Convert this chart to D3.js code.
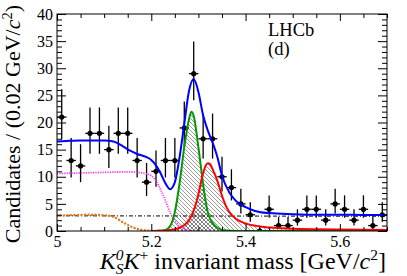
<!DOCTYPE html>
<html><head><meta charset="utf-8">
<script src="https://cdn.jsdelivr.net/npm/d3@7"></script>
<style>html,body{margin:0;padding:0;background:#fff;}</style>
</head><body>
<svg id="c" width="407" height="276" font-family="Liberation Serif, Times New Roman, DejaVu Serif, serif"></svg>
<script>
// ---- data ----
const binCenters = [5.01,5.03,5.05,5.07,5.09,5.11,5.13,5.15,5.17,5.19,5.21,5.23,5.25,5.27,5.29,5.31,5.33,5.35,5.37,5.39,5.41,5.43,5.45,5.47,5.49,5.51,5.53,5.55,5.57,5.59,5.61,5.63,5.65,5.67,5.69];
const counts = [21,13,12,18,18,15,18,18,13,9,11,13,13,19,29,17,17,10,8,5,3,0,4,1,1,2,4,4,2,5,4,2,4,1,3];
const binHalfWidth = 0.01;

const totalMass = [5.00,5.02,5.05,5.08,5.10,5.12,5.14,5.155,5.17,5.19,5.20,5.21,5.22,5.23,5.24,5.25,5.26,5.27,5.28,5.29,5.30,5.31,5.32,5.33,5.34,5.35,5.365,5.38,5.40,5.42,5.45,5.50,5.55,5.60,5.65,5.70];
const totalFit = [16.5,16.6,16.7,16.7,16.7,16.5,15.6,14.8,14.2,13.6,13.1,12.1,10.6,8.8,7.7,9.0,13.6,19.8,25.8,28.0,25.6,21.3,18.5,16.3,13.7,10.2,7.2,5.5,4.4,3.7,3.3,3.1,3.0,3.0,2.95,2.95];

const sigMass = [5.20,5.21,5.22,5.23,5.24,5.25,5.26,5.27,5.28,5.285,5.29,5.30,5.305,5.31,5.32,5.325,5.33,5.34,5.35,5.36,5.37,5.38,5.40,5.43,5.46,5.50,5.55,5.60,5.65,5.70];
const greenSig = [0,0.02,0.05,0.2,0.9,3.5,8.8,15.5,20.6,22.0,21.2,15.4,12.0,8.6,3.4,2.2,1.5,0.6,0.2,0.07,0.03,0.02,0.01,0,0,0,0,0,0,0];
const redSig = [0,0,0.05,0.1,0.2,0.35,0.6,1.1,2.0,2.8,3.8,6.8,8.8,10.7,12.5,12.3,11.4,9.3,6.5,4.3,3.0,2.2,1.4,0.85,0.6,0.42,0.32,0.26,0.21,0.18];

const partMass = [5.00,5.05,5.10,5.15,5.18,5.20,5.21,5.22,5.23,5.24,5.25,5.26,5.27,5.28,5.29,5.30];
const partReco = [10.6,10.7,10.8,10.9,10.7,10.2,9.2,7.6,5.6,3.4,1.9,0.9,0.35,0.1,0.02,0];

const lowMass = [5.00,5.04,5.08,5.10,5.12,5.14,5.16,5.18,5.20,5.22];
const lowBkg = [2.8,2.95,3.0,2.9,2.6,1.6,0.7,0.2,0.05,0];

const combMass = [5.00,5.70];
const combBkg = [2.8,2.72];

const yTickLabels = [0,5,10,15,20,25,30,35,40];
const xTickLabels = [5,5.2,5.4,5.6];

// ---- layout ----
const FONT = "Liberation Serif, Times New Roman, DejaVu Serif, serif";
const svg = d3.select("#c");
const L=57,R=387,T=14,B=231;
const x = d3.scaleLinear([5,5.7],[L,R]);
const y = d3.scaleLinear([0,40],[B,T]);

const defs = svg.append("defs");
defs.append("clipPath").attr("id","clip").append("rect").attr("x",L).attr("y",T).attr("width",R-L).attr("height",B-T);
function hatch(id, dir){
  const p = defs.append("pattern").attr("id",id).attr("patternUnits","userSpaceOnUse").attr("width",4).attr("height",4);
  const d = dir==="back" ? "M-1,-1L5,5M-1,3L1,5M3,-1L5,1" : "M-1,5L5,-1M-1,1L1,-1M3,5L5,3";
  p.append("path").attr("d",d).attr("stroke","#555").attr("stroke-width",0.6).attr("fill","none");
}
hatch("hb","back"); hatch("hf","fwd");

const g = svg.append("g").attr("clip-path","url(#clip)");

const areaGen = (xs) => d3.area().x((d,i)=>x(xs[i])).y0(y(0)).y1(d=>y(d)).curve(d3.curveMonotoneX);
const lineGen = (xs) => d3.line().x((d,i)=>x(xs[i])).y(d=>y(d)).curve(d3.curveMonotoneX);

const overlap = greenSig.map((v,i)=>Math.min(v, redSig[i]));
g.append("path").attr("d",areaGen(sigMass)(greenSig)).attr("fill","url(#hb)");
g.append("path").attr("d",areaGen(sigMass)(redSig)).attr("fill","url(#hb)");
g.append("path").attr("d",areaGen(sigMass)(overlap)).attr("fill","url(#hf)");

// data
const dg = g.append("g").attr("stroke","#000").attr("stroke-width",1.3);
binCenters.forEach((m,i)=>{
  const n = counts[i];
  const lo = n>0 ? Math.sqrt(n+0.25)-0.5 : 0;
  const hi = Math.sqrt(n+0.25)+0.5;
  dg.append("line").attr("x1",x(m-binHalfWidth)).attr("x2",x(m+binHalfWidth)).attr("y1",y(n)).attr("y2",y(n));
  dg.append("line").attr("x1",x(m)).attr("x2",x(m)).attr("y1",y(n-lo)).attr("y2",y(n+hi));
  dg.append("circle").attr("cx",x(m)).attr("cy",y(n)).attr("r",2.6).attr("fill","#000").attr("stroke","none");
});

g.append("path").attr("d",lineGen(combMass)(combBkg)).attr("fill","none").attr("stroke","#000").attr("stroke-width",1).attr("stroke-dasharray","4,2,1,2");
g.append("path").attr("d",lineGen(lowMass)(lowBkg)).attr("fill","none").attr("stroke","#e07a1f").attr("stroke-width",2.4).attr("stroke-dasharray","0.1,3.4").attr("stroke-linecap","round");
g.append("path").attr("d",lineGen(partMass)(partReco)).attr("fill","none").attr("stroke","#ff33ff").attr("stroke-width",1.8).attr("stroke-dasharray","1.2,1.2");
g.append("path").attr("d",lineGen(sigMass)(greenSig)).attr("fill","none").attr("stroke","#009a00").attr("stroke-width",2);
g.append("path").attr("d",lineGen(sigMass)(redSig)).attr("fill","none").attr("stroke","#ff0000").attr("stroke-width",2);
g.append("path").attr("d",lineGen(totalMass)(totalFit)).attr("fill","none").attr("stroke","#0000ff").attr("stroke-width",2);

// axes
const xMinor = d3.range(0,15).map(i=>+(5+i*0.05).toFixed(2)).filter(v=>!xTickLabels.includes(v));
const yMinor = d3.range(0,41).filter(v=>!yTickLabels.includes(v));
function styleAxis(sel){ sel.attr("font-family",FONT); sel.select(".domain").remove(); sel.selectAll("line").attr("stroke","#000").attr("stroke-width",1); sel.selectAll("text").attr("font-family",FONT).attr("font-size",16).attr("fill","#000"); }
svg.append("g").attr("transform",`translate(0,${B})`).call(d3.axisBottom(x).tickValues(xTickLabels).tickSize(-7).tickPadding(5).tickFormat(d3.format("~g"))).call(styleAxis);
svg.append("g").attr("transform",`translate(0,${B})`).call(d3.axisBottom(x).tickValues(xMinor).tickSize(-4).tickFormat("")).call(styleAxis);
svg.append("g").attr("transform",`translate(0,${T})`).call(d3.axisTop(x).tickValues(xTickLabels).tickSize(-7).tickFormat("")).call(styleAxis);
svg.append("g").attr("transform",`translate(0,${T})`).call(d3.axisTop(x).tickValues(xMinor).tickSize(-4).tickFormat("")).call(styleAxis);
svg.append("g").attr("transform",`translate(${L},0)`).call(d3.axisLeft(y).tickValues(yTickLabels).tickSize(-9).tickPadding(4).tickFormat(d3.format("d"))).call(styleAxis);
svg.append("g").attr("transform",`translate(${L},0)`).call(d3.axisLeft(y).tickValues(yMinor).tickSize(-5).tickFormat("")).call(styleAxis);
svg.append("g").attr("transform",`translate(${R},0)`).call(d3.axisRight(y).tickValues(yTickLabels).tickSize(-9).tickFormat("")).call(styleAxis);
svg.append("g").attr("transform",`translate(${R},0)`).call(d3.axisRight(y).tickValues(yMinor).tickSize(-5).tickFormat("")).call(styleAxis);
svg.append("rect").attr("x",L).attr("y",T).attr("width",R-L).attr("height",B-T).attr("fill","none").attr("stroke","#000").attr("stroke-width",1);

// labels
svg.append("text").attr("font-family",FONT).attr("x",268).attr("y",36).attr("font-size",18.5).text("LHCb");
svg.append("text").attr("font-family",FONT).attr("x",268).attr("y",55).attr("font-size",18.5).text("(d)");

const xt = svg.append("text").attr("font-family",FONT).attr("x",386).attr("y",269).attr("text-anchor","end").attr("font-size",24);
xt.append("tspan").attr("font-style","italic").text("K");
xt.append("tspan").attr("font-style","italic").attr("font-size",15.5).attr("dy",5).text("S");
xt.append("tspan").attr("font-style","italic").attr("font-size",15.5).attr("dx",-7.8).attr("dy",-14).text("0");
xt.append("tspan").attr("font-style","italic").attr("dy",9).text("K");
xt.append("tspan").attr("font-size",15.5).attr("dy",-9).text("+");
xt.append("tspan").attr("dy",9).text(" invariant mass [GeV/");
xt.append("tspan").attr("font-style","italic").text("c");
xt.append("tspan").attr("font-size",15.5).attr("dy",-9).text("2");
xt.append("tspan").attr("dy",9).text("]");

const yt = svg.append("text").attr("font-family",FONT).attr("transform","translate(20,5) rotate(-90)").attr("text-anchor","end").attr("font-size",22);
yt.append("tspan").text("Candidates / (0.02 GeV/");
yt.append("tspan").attr("font-style","italic").text("c");
yt.append("tspan").attr("font-size",14.5).attr("dy",-8).text("2");
yt.append("tspan").attr("dy",8).text(")");
</script>
</body></html>
